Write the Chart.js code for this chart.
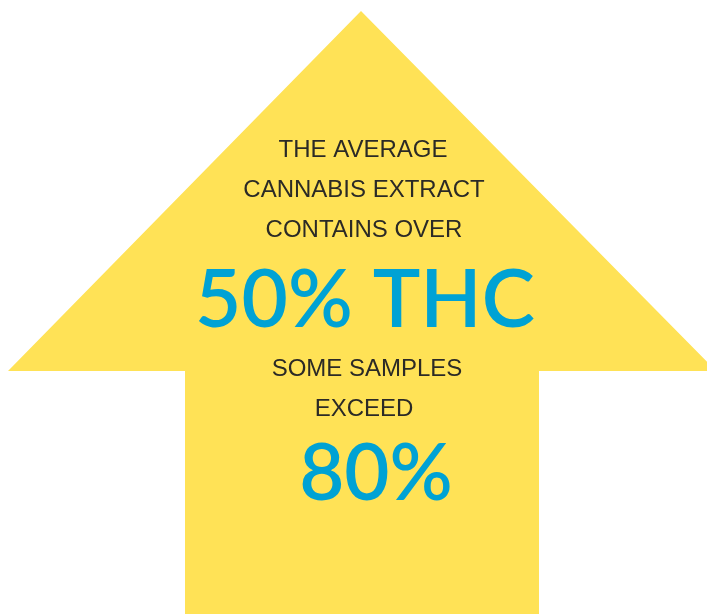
<!DOCTYPE html>
<html>
<head>
<meta charset="utf-8">
<script src="https://cdn.jsdelivr.net/npm/chart.js@4/dist/chart.umd.min.js"></script>
<style>
  html, body { margin: 0; padding: 0; background: #fff; }
  #wrap { width: 707px; height: 614px; }
</style>
</head>
<body>
<div id="wrap"><canvas id="arrow_chart" width="707" height="614"></canvas></div>
<script>
// arrow outline (x, y in picture units, y grows downward)
var arrowX = [361, 8, 185, 185, 539, 539, 716, 361];
var arrowY = [11, 371, 371, 614, 614, 371, 371, 11];

// texts
var introLines = ['THE AVERAGE', 'CANNABIS EXTRACT', 'CONTAINS OVER'];
var mainFigure = '50% THC';
var outroLines = ['SOME SAMPLES', 'EXCEED'];
var peakFigure = '80%';

function buildPoints() {
  return arrowX.map(function (x, i) {
    return { x: x, y: arrowY[i] };
  });
}

// where each text sits: centre x, baseline y, size, colour
function textLayout() {
  var dark = '#2b2a26';
  var blue = '#00a2d4';
  var small = '24px "Liberation Sans", Arial, sans-serif';
  var rows = [];
  rows.push({ t: introLines[0], x: 363, y: 157, font: small, c: dark });
  rows.push({ t: introLines[1], x: 364, y: 197, font: small, c: dark });
  rows.push({ t: introLines[2], x: 364, y: 237, font: small, c: dark });
  rows.push({ t: mainFigure, x: 365, y: 327, font: '600 80px Lato, "Liberation Sans", sans-serif', c: blue });
  rows.push({ t: outroLines[0], x: 367, y: 376, font: small, c: dark });
  rows.push({ t: outroLines[1], x: 364, y: 416, font: small, c: dark });
  rows.push({ t: peakFigure, x: 376, y: 500, font: '600 78px Lato, "Liberation Sans", sans-serif', c: blue });
  return rows;
}

var textPlugin = {
  id: 'arrowText',
  afterDatasetsDraw: function (chart) {
    var ctx = chart.ctx;
    var xs = chart.scales.x;
    var ys = chart.scales.y;
    ctx.save();
    ctx.textAlign = 'center';
    ctx.textBaseline = 'alphabetic';
    textLayout().forEach(function (r) {
      ctx.font = r.font;
      ctx.fillStyle = r.c;
      ctx.fillText(r.t, xs.getPixelForValue(r.x), ys.getPixelForValue(r.y));
    });
    ctx.restore();
  }
};

new Chart(document.getElementById('arrow_chart'), {
  type: 'scatter',
  data: {
    datasets: [
      {
        data: buildPoints(),
        showLine: true,
        fill: 'shape',
        backgroundColor: '#ffe256',
        borderColor: '#ffe256',
        borderWidth: 0,
        pointRadius: 0,
        tension: 0
      }
    ]
  },
  options: {
    responsive: false,
    animation: false,
    layout: { padding: 0 },
    plugins: {
      legend: { display: false },
      tooltip: { enabled: false }
    },
    scales: {
      x: { type: 'linear', min: 0, max: 707, display: false },
      y: { type: 'linear', min: 0, max: 614, reverse: true, display: false }
    }
  },
  plugins: [textPlugin]
});
</script>
</body>
</html>
